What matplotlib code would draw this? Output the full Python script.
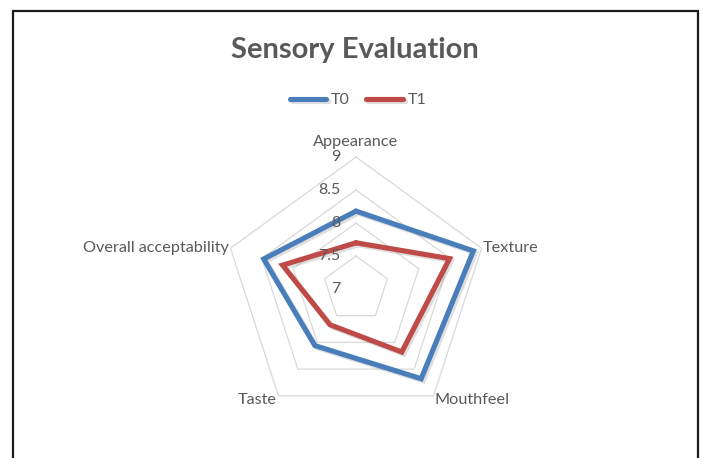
import numpy as np
import matplotlib.pyplot as plt
import matplotlib.patheffects as pe
from matplotlib.patches import Rectangle

plt.rcParams['font.family'] = ['Lato', 'DejaVu Sans']

# data
categories = ['Appearance', 'Texture', 'Mouthfeel', 'Taste', 'Overall acceptability']
t0_values = [8.18, 8.87, 8.68, 8.06, 8.47]
t1_values = [7.70, 8.49, 8.18, 7.67, 8.17]
ring_levels = [7, 7.5, 8, 8.5, 9]
ring_labels = ['7', '7.5', '8', '8.5', '9']

text_gray = '#595959'
grid_gray = '#d9d9d9'
blue = '#4a7ebb'
red = '#be4b48'

fig = plt.figure(figsize=(7.03, 4.58), dpi=100)

# outer chart border (cut off at the bottom)
fig.patches.append(Rectangle((13 / 703, -0.1), 685 / 703, 1.1 - 11 / 458,
                             transform=fig.transFigure, fill=False,
                             edgecolor='#1a1a1a', linewidth=1.6))

# polar axes: centre at (356, 289) px, radius 132 px
cx, cy, rad = 356, 289, 132
ax = fig.add_axes([(cx - rad) / 703, (458 - cy - rad) / 458, 2 * rad / 703, 2 * rad / 458],
                  projection='polar')
ax.set_theta_offset(np.pi / 2)
ax.set_theta_direction(-1)
ax.set_ylim(7, 9)
ax.grid(False)
ax.set_xticks([])
ax.set_yticks([])
ax.spines['polar'].set_visible(False)
ax.patch.set_alpha(0)

angles = np.linspace(0, 2 * np.pi, len(categories), endpoint=False)
closed = np.append(angles, angles[0])

# pentagon grid rings
for lvl in ring_levels[1:]:
    ax.plot(closed, [lvl] * len(closed), color=grid_gray, lw=0.9, clip_on=False, zorder=1)

shadow = [pe.SimpleLineShadow(offset=(1.5, -1.5), alpha=0.25, shadow_color='gray'), pe.Normal()]
ax.plot(closed, t0_values + t0_values[:1], color=blue, lw=3.7, clip_on=False, zorder=3,
        solid_joinstyle='miter', solid_capstyle='round', path_effects=shadow, label='T0')
ax.plot(closed, t1_values + t1_values[:1], color=red, lw=3.7, clip_on=False, zorder=4,
        solid_joinstyle='miter', solid_capstyle='round', path_effects=shadow, label='T1')

# radial tick labels along the top axis
for lvl, lab in zip(ring_levels, ring_labels):
    ax.annotate(lab, (0, lvl), xytext=(-11, 0), textcoords='offset points',
                ha='right', va='center', fontsize=11.5, color=text_gray, zorder=5)

# category labels
label_pos = [((0, 6), 'center', 'bottom'),
             ((1, 0), 'left', 'center'),
             ((1, -3), 'left', 'center'),
             ((-1, -3), 'right', 'center'),
             ((-1, 0), 'right', 'center')]
for ang, cat, (off, ha, va) in zip(angles, categories, label_pos):
    ax.annotate(cat, (ang, 9), xytext=off, textcoords='offset points',
                ha=ha, va=va, fontsize=11.7, color=text_gray)

fig.text(355 / 703, 1 - 50 / 458, 'Sensory Evaluation', ha='center', va='center',
         fontsize=21, fontweight='bold', color=text_gray)

fig.legend(loc='center', bbox_to_anchor=(358 / 703, 1 - 100 / 458), ncol=2, frameon=False,
           fontsize=11.5, labelcolor=text_gray, handlelength=2.3, handletextpad=0.3,
           columnspacing=1.0)

fig.savefig('out.png', dpi=100)
